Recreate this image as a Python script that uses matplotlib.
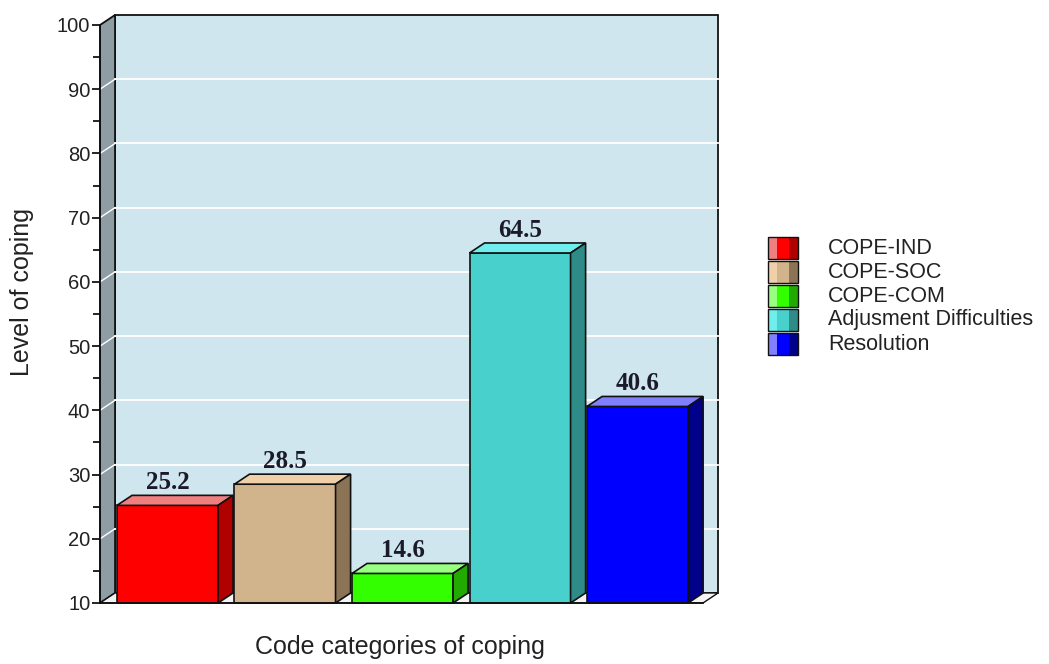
import matplotlib.pyplot as plt
from matplotlib.patches import Polygon, Rectangle

# data
categories = ['COPE-IND', 'COPE-SOC', 'COPE-COM', 'Adjusment Difficulties', 'Resolution']
values = [25.2, 28.5, 14.6, 64.5, 40.6]
y_ticks = [10, 20, 30, 40, 50, 60, 70, 80, 90, 100]

# face colours: front, top, side
front_colors = ['#ff0000', '#d2b48c', '#33ff00', '#48d1cc', '#0000ff']
top_colors = ['#f08080', '#f0d0a8', '#99ff80', '#70eeee', '#8080ff']
side_colors = ['#b00000', '#8b7355', '#22aa00', '#2e8b87', '#00008b']

WALL = '#d0e6ee'
SIDE_WALL = '#8e9ca4'
EDGE = '#111111'

Y0, Y1 = 10, 100
BAR_W = 0.86
DX, DY = 0.128, 1.56  # depth offset in data units

plt.rcParams['font.family'] = ['Liberation Sans', 'DejaVu Sans']

fig = plt.figure(figsize=(10.49, 6.64), dpi=100)
ax = fig.add_axes([100 / 1049, 61 / 664, 603 / 1049, 578 / 664])
x0, x1 = -0.5745, 4.557
ax.set_xlim(x0, x1)
ax.set_ylim(Y0, Y1)
ax.set_facecolor('none')
for s in ['top', 'right', 'bottom']:
    ax.spines[s].set_visible(False)
ax.spines['left'].set_linewidth(1.3)
ax.spines['left'].set_color(EDGE)
ax.set_xticks([])

# back wall
wall = Polygon([(x0 + DX, Y0 + DY), (x1 + DX, Y0 + DY), (x1 + DX, Y1 + DY), (x0 + DX, Y1 + DY)],
               closed=True, facecolor=WALL, edgecolor=EDGE, lw=1.3, clip_on=False, zorder=0)
ax.add_patch(wall)

# left side wall
side = Polygon([(x0, Y0), (x0 + DX, Y0 + DY), (x0 + DX, Y1 + DY), (x0, Y1)],
               closed=True, facecolor=SIDE_WALL, edgecolor=EDGE, lw=1.3, clip_on=False, zorder=0)
ax.add_patch(side)

# floor
floor = Polygon([(x0, Y0), (x1, Y0), (x1 + DX, Y0 + DY), (x0 + DX, Y0 + DY)],
                closed=True, facecolor='#f4f4f4', edgecolor=EDGE, lw=1.0, clip_on=False, zorder=1)
ax.add_patch(floor)

# grid lines on back and side walls
for v in y_ticks[1:-1]:
    ax.plot([x0 + DX, x1 + DX], [v + DY, v + DY], color='white', lw=1.3, zorder=0.5, clip_on=False)
    ax.plot([x0, x0 + DX], [v, v + DY], color='white', lw=1.0, zorder=0.5, clip_on=False)

# 3D bars
for i, v in enumerate(values):
    l, r = i - BAR_W / 2, i + BAR_W / 2
    ax.add_patch(Rectangle((l, Y0), BAR_W, v - Y0, facecolor=front_colors[i],
                           edgecolor=EDGE, lw=1.2, zorder=3, clip_on=False))
    ax.add_patch(Polygon([(l, v), (r, v), (r + DX, v + DY), (l + DX, v + DY)], closed=True,
                         facecolor=top_colors[i], edgecolor=EDGE, lw=1.2, zorder=3, clip_on=False))
    ax.add_patch(Polygon([(r, Y0), (r + DX, Y0 + DY), (r + DX, v + DY), (r, v)], closed=True,
                         facecolor=side_colors[i], edgecolor=EDGE, lw=1.2, zorder=3, clip_on=False))
    ax.text(i, v + DY + 0.2, f'{v:.1f}', ha='center', va='bottom', fontsize=18,
            fontweight='bold', family='Liberation Serif', color='#1a1a2a', zorder=4)

# front edge of floor
ax.plot([x0, x1], [Y0, Y0], color=EDGE, lw=1.3, zorder=5, clip_on=False)

ax.set_yticks(y_ticks)
ax.set_yticks(range(15, 100, 10), minor=True)
ax.tick_params(axis='y', which='major', length=6, width=1.2, labelsize=14.5,
               labelcolor='#222222', pad=1)
ax.tick_params(axis='y', which='minor', length=5, width=1.2)

fig.text(22 / 1049, 1 - 292 / 664, 'Level of coping', rotation=90, ha='center', va='center',
         fontsize=18, color='#222222')
fig.text(400 / 1049, 1 - 647 / 664, 'Code categories of coping', ha='center', va='center',
         fontsize=18, color='#222222')

# legend with shaded swatches
W, H = 1049, 664
for i, name in enumerate(categories):
    cy = 248 + i * 24
    top = cy - 11
    bands = [top_colors[i], front_colors[i], side_colors[i]]
    widths = [9, 12, 9]
    bx = 768
    for c, w in zip(bands, widths):
        fig.add_artist(Rectangle((bx / W, 1 - (top + 22) / H), w / W, 22 / H,
                                 facecolor=c, edgecolor='none', transform=fig.transFigure))
        bx += w
    fig.add_artist(Rectangle((768 / W, 1 - (top + 22) / H), 30 / W, 22 / H,
                             facecolor='none', edgecolor=EDGE, lw=1.0, transform=fig.transFigure))
    fig.text(828 / W, 1 - cy / H, name, ha='left', va='center', fontsize=15.5, color='#222222')

fig.savefig('out.png', dpi=100)
